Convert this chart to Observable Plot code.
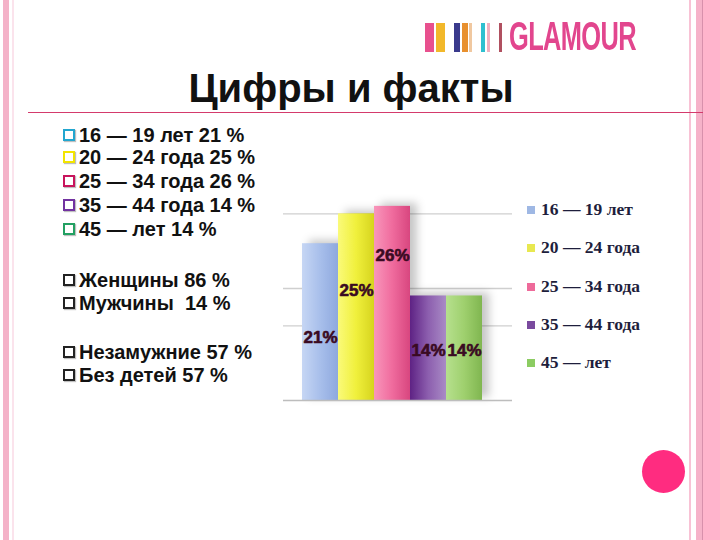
<!DOCTYPE html>
<html><head><meta charset="utf-8">
<script src="https://cdn.jsdelivr.net/npm/d3@7"></script>
<script src="https://cdn.jsdelivr.net/npm/@observablehq/plot@0.6"></script>
<style>
body{margin:0;background:#fff;}
#slide{position:relative;width:720px;height:540px;background:#fff;overflow:hidden;font-family:"Liberation Sans",Arial,sans-serif;}
.deco{position:absolute;}
.row{position:absolute;left:63px;font-size:20px;font-weight:bold;color:#111;white-space:pre;line-height:20px;height:20px;}
.bx{display:inline-block;width:8px;height:8px;border:2px solid;margin-right:4px;vertical-align:1px;box-shadow:1px 1px 1px rgba(0,0,0,0.25);background:#fff;}
.lg{position:absolute;left:527px;font-family:"Liberation Serif","Times New Roman",serif;font-weight:bold;font-size:17.5px;color:#1e1e3c;white-space:pre;line-height:18px;height:18px;}
.sw{display:inline-block;width:8px;height:8px;margin-right:6px;vertical-align:1px;}
</style></head><body><div id="slide"></div>
<script>
// ---- data ----
const categories = ["16 — 19 лет", "20 — 24 года", "25 — 34 года", "35 — 44 года", "45 — лет"];
const shares = [21, 25, 26, 14, 14];
const valueLabels = ["21%", "25%", "26%", "14%", "14%"];
const labelLevels = [8.4, 14.7, 19.4, 6.7, 6.7];
const gridValues = [10, 15, 25];
const ageLines = ["16 — 19 лет 21 %", "20 — 24 года 25 %", "25 — 34 года 26 %", "35 — 44 года 14 %", "45 — лет 14 %"];
const genderLines = ["Женщины 86 %", "Мужчины  14 %"];
const otherLines = ["Незамужние 57 %", "Без детей 57 %"];
const titleText = "Цифры и факты";
const brandText = "GLAMOUR";

// ---- styles ----
const barGrad = [
  ["#c6d6f4", "#a8bfeb", "#8ea8de"],
  ["#fafa7a", "#f0f03c", "#d6d41e"],
  ["#f896bb", "#f06c9e", "#d8467f"],
  ["#5e2284", "#8c5eae", "#a98bc6"],
  ["#b6e08e", "#9fd06e", "#80b650"]
];
const bulletColors = ["#22a6cf", "#f2e400", "#c8145c", "#7232a0", "#22a062"];
const swatchColors = ["#9fb8e4", "#e8e850", "#ee6a9a", "#7a4a9e", "#8ccc62"];

const slide = document.getElementById("slide");
function add(html){ slide.insertAdjacentHTML("beforeend", html); }

// border decorations
add(`<div class="deco" style="left:3px;top:0;width:6px;height:540px;background:#f4b2c8"></div>`);
add(`<div class="deco" style="left:12px;top:0;width:2px;height:540px;background:#fbe3ec"></div>`);
add(`<div class="deco" style="left:689px;top:0;width:2px;height:540px;background:#f8c2d5"></div>`);
add(`<div class="deco" style="left:696px;top:0;width:6px;height:540px;background:#f6b2c9"></div>`);
add(`<div class="deco" style="left:702px;top:0;width:1px;height:540px;background:#d890ac"></div>`);
add(`<div class="deco" style="left:703px;top:0;width:17px;height:540px;background:#ffb4cc"></div>`);
add(`<div class="deco" style="left:28px;top:112px;width:675px;height:1px;background:#d43a6c"></div>`);
add(`<div class="deco" style="left:642px;top:450px;width:43px;height:43px;border-radius:50%;background:#ff2c80"></div>`);

// logo stripes
const stripes = [[425,9,"#e8508e"],[436,9,"#f2b82a"],[454,6,"#3a3a8c"],[462,6,"#e8902e"],[469,3,"#f0c8a0"],[481,4,"#2ec0d0"],[487,3,"#f0b0c0"],[499,3,"#b05060"]];
stripes.forEach(([x,w,c]) => add(`<div class="deco" style="left:${x}px;top:23px;width:${w}px;height:29px;background:${c}"></div>`));
add(`<div class="deco" style="left:509px;top:14px;height:44px;font-family:'Liberation Sans',sans-serif;font-weight:bold;font-size:41px;line-height:44px;color:#e2468e;letter-spacing:-1px;transform-origin:0 50%;transform:scaleX(0.62);white-space:nowrap">${brandText}</div>`);

// title
add(`<div class="deco" style="left:0;width:702px;top:66px;text-align:center;font-size:40px;font-weight:bold;color:#111;line-height:44px;">${titleText}</div>`);

// left list
const ageY = [135, 157, 181, 205, 229];
ageLines.forEach((t,i) => add(`<div class="row" style="top:${ageY[i]-10}px"><span class="bx" style="border-color:${bulletColors[i]}"></span>${t}</div>`));
const genderY = [280, 303];
genderLines.forEach((t,i) => add(`<div class="row" style="top:${genderY[i]-10}px"><span class="bx" style="border-color:#222"></span>${t}</div>`));
const otherY = [352, 375];
otherLines.forEach((t,i) => add(`<div class="row" style="top:${otherY[i]-10}px"><span class="bx" style="border-color:#222"></span>${t}</div>`));

// right legend
const legY = [209, 247, 286, 324, 362];
categories.forEach((c,i) => add(`<div class="lg" style="top:${legY[i]-9}px"><span class="sw" style="background:${swatchColors[i]}"></span>${c}</div>`));

// chart
const data = categories.map((c,i) => ({cat:c, v:shares[i], label:valueLabels[i], ly:labelLevels[i], g:`url(#bg${i})`}));
const chart = Plot.plot({
  width: 229, height: 226,
  marginTop: 0, marginBottom: 2, marginLeft: 0, marginRight: 0,
  x: {type: "band", domain: categories, padding: 0, insetLeft: 18, insetRight: 30, axis: null},
  y: {domain: [0, 30], axis: null},
  style: {background: "transparent", overflow: "visible"},
  marks: [
    Plot.ruleY(gridValues, {stroke: "#cfcfcf", strokeWidth: 1.3}),
    Plot.barY(data, {x: "cat", y: "v", fill: "g"}),
    Plot.ruleY([0], {stroke: "#bdbdbd", strokeWidth: 1.3}),
    Plot.text(data, {x: "cat", y: "ly", text: "label", fill: "#3a0a22", fontSize: 17, fontWeight: "900", fontFamily: "Liberation Sans, Arial, sans-serif", stroke: "#3a0a22", strokeWidth: 0.6})
  ]
});
const ns = "http://www.w3.org/2000/svg";
const defs = document.createElementNS(ns, "defs");
barGrad.forEach((stops, i) => {
  const lg = document.createElementNS(ns, "linearGradient");
  lg.setAttribute("id", `bg${i}`);
  lg.setAttribute("x1", "0"); lg.setAttribute("x2", "1"); lg.setAttribute("y1", "0"); lg.setAttribute("y2", "0");
  [[0, stops[0]], [0.5, stops[1]], [1, stops[2]]].forEach(([o, c]) => {
    const s = document.createElementNS(ns, "stop");
    s.setAttribute("offset", o); s.setAttribute("stop-color", c);
    lg.appendChild(s);
  });
  defs.appendChild(lg);
});
chart.insertBefore(defs, chart.firstChild);
const barG = chart.querySelector('g[aria-label="bar"]');
if (barG) barG.style.filter = "drop-shadow(7px -3px 4px rgba(0,0,0,0.22))";
chart.style.position = "absolute";
chart.style.left = "283px";
chart.style.top = "176px";
slide.appendChild(chart);
</script>
</body></html>
